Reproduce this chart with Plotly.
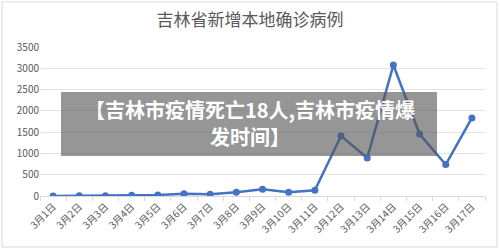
import plotly.graph_objects as go

dates = ["3月1日", "3月2日", "3月3日", "3月4日", "3月5日", "3月6日", "3月7日", "3月8日", "3月9日",
         "3月10日", "3月11日", "3月12日", "3月13日", "3月14日", "3月15日", "3月16日", "3月17日"]
cases = [2, 3, 4, 16, 24, 50, 42, 90, 160, 90, 134, 1412, 893, 3076, 1456, 737, 1834]
y_ticks = [0, 500, 1000, 1500, 2000, 2500, 3000, 3500]

title_text = "吉林省新增本地确诊病例"
overlay_lines = ["【吉林市疫情死亡18人,吉林市疫情爆", "发时间】"]

W, H = 500, 249
L, R, T, B = 40, 15, 47, 53
pw, ph = W - L - R, H - T - B

def px(x):
    return (x - L) / pw

def py(y):
    return (H - B - y) / ph

fig = go.Figure()
fig.add_trace(go.Scatter(
    x=dates, y=cases, mode="lines+markers",
    line=dict(color="#4472C4", width=2.5),
    marker=dict(color="#4472C4", size=7),
    hoverinfo="skip",
))

font_family = "Noto Sans CJK SC, Noto Sans, sans-serif"

fig.update_layout(
    width=W, height=H,
    margin=dict(l=L, r=R, t=T, b=B),
    paper_bgcolor="white", plot_bgcolor="white",
    showlegend=False,
    font=dict(family=font_family, color="#595959", size=10),
    title=dict(text=title_text, x=0.5, xanchor="center", y=1 - 20 / H, yanchor="middle",
               font=dict(size=17, color="#595959", family=font_family)),
    xaxis=dict(
        type="category", tickangle=-45, tickson="boundaries", ticks="outside",
        ticklen=4, tickcolor="#d9d9d9", showline=True, linecolor="#d9d9d9",
        showgrid=False, tickfont=dict(size=10, color="#595959"), range=[-0.5, 16.5],
    ),
    yaxis=dict(
        range=[0, 3500], tickvals=y_ticks, showgrid=True, gridcolor="#e3e3e3",
        gridwidth=1, zeroline=False, showline=False, ticks="",
        tickfont=dict(size=10, color="#595959"),
    ),
    shapes=[
        dict(type="rect", xref="paper", yref="paper",
             x0=px(2), x1=px(497), y0=py(247), y1=py(2),
             line=dict(color="#d9d9d9", width=1), fillcolor="rgba(0,0,0,0)", layer="below"),
        dict(type="rect", xref="paper", yref="paper",
             x0=px(61), x1=px(437), y0=py(156), y1=py(92),
             line=dict(width=0), fillcolor="rgba(85,85,85,0.62)", layer="above"),
    ],
    annotations=[
        dict(text="<b>" + overlay_lines[0] + "</b>", xref="paper", yref="paper",
             x=px(250), y=py(109), xanchor="center", yanchor="middle",
             showarrow=False, font=dict(size=20, color="white", family=font_family)),
        dict(text="<b>" + overlay_lines[1] + "</b>", xref="paper", yref="paper",
             x=px(250), y=py(136), xanchor="center", yanchor="middle",
             showarrow=False, font=dict(size=20, color="white", family=font_family)),
    ],
)

fig.write_html("out.html")
